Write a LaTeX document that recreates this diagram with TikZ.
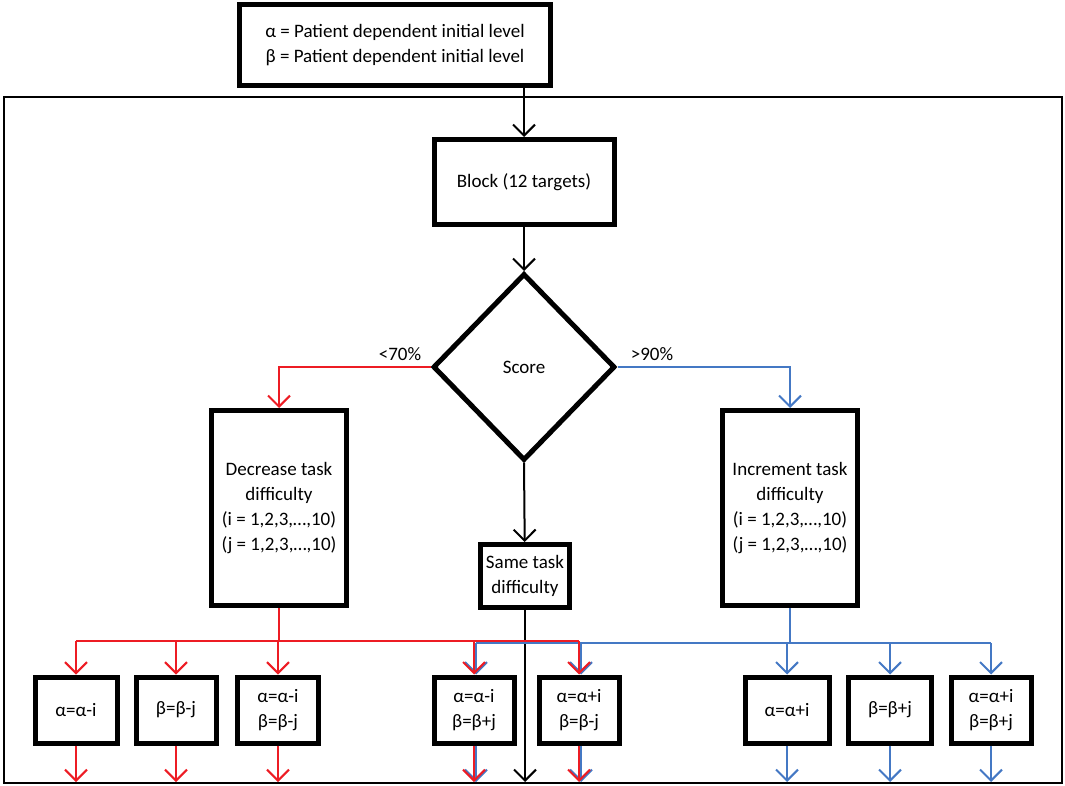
\documentclass[tikz,border=0pt]{standalone}
\usepackage{fontspec}
\setmainfont{Carlito}
\usetikzlibrary{arrows.meta,shapes.geometric}
\definecolor{rd}{RGB}{237,28,36}
\definecolor{bl}{RGB}{68,120,196}
\begin{document}
\begin{tikzpicture}[x=1pt,y=-1pt,
  box/.style={draw,line width=5pt,align=center,font=\fontsize{19}{25}\selectfont,inner sep=0pt},
  lbl/.style={font=\fontsize{19}{22}\selectfont},
  ar/.style={-{Straight Barb[length=11pt,width=22pt,line width=2pt]},line width=2pt},
  ln/.style={line width=2pt}]
\useasboundingbox (0,0) rectangle (1065,786);
\draw[line width=1.5pt] (4,97) rectangle (1062,783);
\node[box,minimum width=311,minimum height=81,fill=white] (top) at (395,45) {α = Patient dependent initial level\\β = Patient dependent initial level};
\node[box,minimum width=180,minimum height=85] (blk) at (524,182) {Block (12 targets)};
\node[draw,line width=5pt,diamond,minimum width=182,minimum height=187,inner sep=0pt,font=\fontsize{19}{22}\selectfont] (sc) at (524,367) {Score};
\node[box,minimum width=135,minimum height=195] (dec) at (279,508) {Decrease task\\difficulty\\(i = 1,2,3,…,10)\\(j = 1,2,3,…,10)};
\node[box,minimum width=135,minimum height=195] (inc) at (790,508) {Increment task\\difficulty\\(i = 1,2,3,…,10)\\(j = 1,2,3,…,10)};
\node[box,minimum width=89,minimum height=63] (same) at (525,576) {Same task\\difficulty};
\foreach \n/\x/\w/\t in {a1/76/82/{α=α-i},a2/176/80/{β=β-j},a3/278/81/{α=α-i\\β=β-j},m1/474/80/{α=α-i\\β=β+j},m2/579/80/{α=α+i\\β=β-j},b1/787/84/{α=α+i},b2/890/83/{β=β+j},b3/991/80/{α=α+i\\β=β+j}}
  \node[box,minimum width=\w,minimum height=66] (\n) at (\x,710) {\t};
\draw[ar] (top.south-|blk.north) -- (blk.north);
\draw[ar] (blk) -- (sc.north);
\draw[ar] (sc.south) -- (same);
\draw[ar,rd] (sc.west) -| (dec.north);
\draw[ar,bl] (sc.east) -| (inc.north);
\node[lbl,anchor=south] (l70) at (400,364) {<70\%};
\node[lbl,anchor=south] (l90) at (652,364) {>90\%};
\coordinate (sb) at (same.south|-0,782);
\draw[ar] (same) -- (sb);
% blue distribution
\coordinate (bj) at (790,643);
\draw[ln,bl] (inc.south) -- (bj);
\draw[ln,bl] ([xshift=2pt]m1.north|-0,643) -- (b3.north|-0,643);
\foreach \n in {b1,b2,b3}{\draw[ar,bl] (\n.north|-0,643) -- (\n.north);
  \draw[ar,bl] (\n.south) -- (\n.south|-0,782);}
\foreach \n in {m1,m2}{\draw[ar,bl] ([xshift=2pt]\n.north|-0,643) -- ([xshift=2pt]\n.north);
  \draw[ar,bl] ([xshift=2pt]\n.south) -- ([xshift=2pt]\n.south|-0,782);}
% red distribution
\draw[ln,rd] (dec.south) -- (dec.south|-0,641);
\draw[ln,rd] (a1.north|-0,641) -- (m2.north|-0,641);
\foreach \n in {a1,a2,a3,m1,m2}{\draw[ar,rd] (\n.north|-0,641) -- (\n.north);
  \draw[ar,rd] (\n.south) -- (\n.south|-0,782);}
\end{tikzpicture}
\end{document}
